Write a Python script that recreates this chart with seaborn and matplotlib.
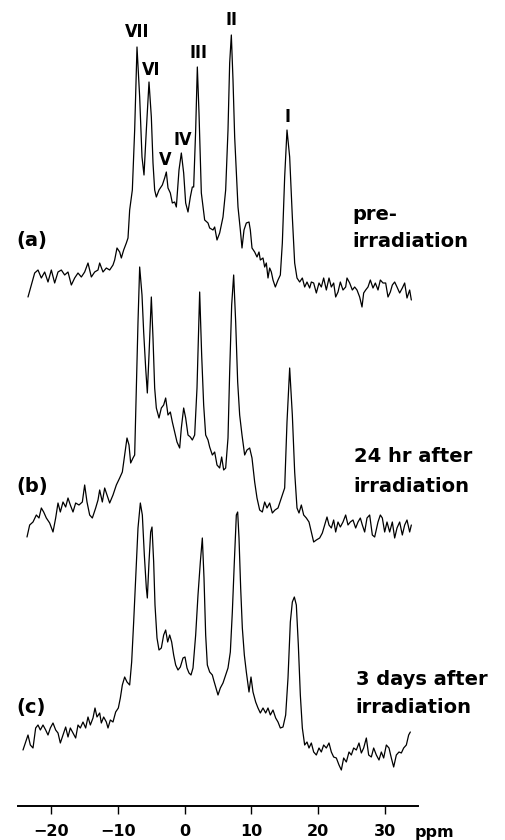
import matplotlib
matplotlib.use("Agg")
import matplotlib.pyplot as plt
import seaborn as sns
import pandas as pd

# ---------------- data ----------------
# chemical shift (ppm) and intensity (arbitrary units) for each spectrum
ppm_a = [-23.5, -22.5, -22.0, -21.5, -21.0, -20.5, -20.0, -19.5, -19.0, -18.5, -18.0, -17.5,
         -17.0, -16.5, -16.0, -15.5, -15.0, -14.5, -14.0, -13.5, -13.0, -12.75, -12.25, -11.75,
         -11.25, -10.75, -10.5, -10.15, -9.75, -9.5, -9.15, -8.75, -8.5, -8.25, -7.85, -7.5,
         -7.15, -6.75, -6.4, -6.1, -5.75, -5.35, -5.0, -4.75, -4.5, -4.25, -3.85, -3.35, -3.0,
         -2.75, -2.5, -2.15, -1.85, -1.5, -1.25, -0.85, -0.5, -0.15, 0.15, 0.5, 0.85, 1.15, 1.35,
         1.65, 1.9, 2.15, 2.5, 3.0, 3.5, 3.75, 4.25, 4.5, 4.85, 5.25, 5.75, 6.15, 6.5, 6.75, 7.0,
         7.25, 7.5, 7.75, 8.0, 8.35, 8.6, 8.9, 9.25, 9.65, 9.85, 10.1, 10.5, 10.85, 11.15, 11.35,
         11.75, 12.0, 12.25, 12.5, 12.75, 13.0, 13.25, 13.6, 14.0, 14.35, 14.65, 15.0, 15.35,
         15.75, 16.15, 16.5, 16.85, 17.25, 17.65, 18.0, 18.35, 18.75, 19.0, 19.35, 19.75, 20.15,
         20.5, 20.85, 21.25, 21.65, 22.0, 22.35, 22.65, 23.0, 23.35, 23.75, 24.15, 24.35, 24.75,
         25.15, 25.5, 25.85, 26.25, 26.6, 26.85, 27.15, 27.5, 27.85, 28.25, 28.6, 29.0, 29.35,
         29.75, 30.15, 30.5, 30.85, 31.15, 31.5, 31.85, 32.25, 32.65, 33.0, 33.35, 33.75, 34.0]
int_a = [13, 37, 40, 32, 38, 28, 40, 27, 38, 40, 35, 38,
         25, 32, 37, 33, 38, 47, 33, 38, 40, 47, 38, 42,
         40, 45, 50, 62, 58, 52, 60, 67, 72, 100, 120, 180,
         263, 213, 153, 135, 180, 228, 193, 147, 120, 113, 120, 125, 132,
         138, 122, 117, 107, 108, 103, 140, 157, 137, 107, 98, 113, 123, 123,
         180, 243, 197, 117, 90, 87, 82, 80, 83, 70, 77, 93, 120, 180, 247, 275,
         230, 173, 137, 103, 80, 62, 80, 87, 88, 80, 62, 58, 53, 58, 50,
         52, 43, 47, 32, 42, 38, 30, 23, 30, 35, 67, 133, 180,
         153, 93, 47, 32, 28, 32, 23, 28, 22, 28, 27, 17, 27,
         23, 32, 20, 32, 23, 27, 13, 18, 28, 20, 23, 32, 27,
         20, 23, 20, 13, 3, 17, 20, 23, 30, 22, 27, 20, 30,
         27, 27, 13, 18, 25, 28, 23, 17, 22, 27, 12, 20, 10]

ppm_b = [-23.65, -23.25, -22.75, -22.25, -21.85, -21.5, -21.15, -20.75, -20.25, -19.75, -19.35,
         -19.0, -18.65, -18.25, -17.85, -17.5, -17.15, -16.75, -16.35, -15.85, -15.35, -15.0,
         -14.65, -14.25, -13.85, -13.35, -13.0, -12.75, -12.35, -12.0, -11.65, -11.25, -10.75,
         -10.25, -9.75, -9.35, -9.0, -8.65, -8.35, -8.1, -7.75, -7.5, -7.25, -7.0, -6.75, -6.4,
         -6.15, -5.85, -5.6, -5.35, -5.0, -4.75, -4.5, -4.25, -3.85, -3.5, -3.15, -2.85, -2.5,
         -2.15, -1.85, -1.5, -1.15, -0.75, -0.5, -0.15, 0.15, 0.5, 0.85, 1.15, 1.5, 1.85, 2.25,
         2.55, 2.85, 3.15, 3.5, 3.75, 4.15, 4.5, 4.85, 5.25, 5.55, 5.85, 6.15, 6.5, 6.75, 7.05,
         7.35, 7.65, 7.95, 8.25, 8.6, 9.0, 9.35, 9.75, 10.1, 10.5, 10.85, 11.25, 11.65, 12.0,
         12.35, 12.75, 13.15, 13.55, 14.0, 14.5, 15.0, 15.35, 15.75, 16.15, 16.5, 16.85, 17.15,
         17.5, 17.85, 18.25, 18.65, 19.0, 19.35, 19.75, 20.25, 20.65, 21.0, 21.35, 21.65, 22.0,
         22.35, 22.65, 23.0, 23.35, 23.75, 24.15, 24.5, 24.85, 25.25, 25.65, 26.0, 26.35, 26.65,
         27.0, 27.35, 27.75, 28.15, 28.5, 29.0, 29.35, 29.65, 30.0, 30.35, 30.75, 31.15, 31.5,
         31.85, 32.25, 32.65, 33.0, 33.35, 33.75, 34.0]
int_b = [8, 20, 23, 30, 27, 37, 33, 27, 22, 13, 27,
         42, 33, 43, 38, 47, 40, 33, 42, 40, 43, 60,
         43, 30, 27, 37, 45, 55, 43, 57, 50, 42, 50,
         60, 67, 73, 90, 107, 100, 82, 87, 90, 157, 223, 278, 250,
         213, 177, 152, 190, 248, 207, 157, 137, 127, 137, 140, 147, 130,
         133, 123, 113, 103, 97, 117, 137, 127, 110, 108, 105, 110, 157, 253,
         190, 140, 110, 105, 98, 90, 93, 80, 77, 88, 75, 77, 107, 173, 240,
         270, 223, 163, 130, 110, 90, 95, 97, 87, 63, 47, 35, 33, 43,
         37, 42, 32, 35, 37, 47, 57, 123, 177, 130, 73, 37, 32,
         40, 30, 27, 23, 13, 3, 5, 7, 12, 20, 28, 20, 17,
         25, 13, 23, 18, 23, 30, 20, 23, 25, 17, 23, 27, 20,
         13, 27, 30, 10, 8, 23, 30, 27, 13, 23, 13, 23, 7,
         17, 23, 10, 20, 25, 13, 20]

ppm_c = [-24.25, -23.85, -23.5, -23.15, -22.75, -22.35, -22.0, -21.65, -21.25, -20.85, -20.5,
         -20.15, -19.75, -19.35, -19.0, -18.65, -18.25, -17.85, -17.5, -17.15, -16.75, -16.35,
         -16.0, -15.65, -15.25, -14.85, -14.5, -14.15, -13.75, -13.45, -13.15, -12.75, -12.5,
         -12.15, -11.75, -11.5, -11.15, -10.75, -10.35, -9.95, -9.65, -9.35, -9.0, -8.65, -8.25,
         -7.95, -7.65, -7.35, -7.0, -6.65, -6.35, -6.05, -5.75, -5.6, -5.35, -5.1, -4.9, -4.65,
         -4.45, -4.15, -3.85, -3.5, -3.15, -2.85, -2.55, -2.25, -1.95, -1.65, -1.35, -1.0, -0.65,
         -0.25, 0.05, 0.35, 0.65, 0.95, 1.25, 1.65, 2.0, 2.35, 2.65, 2.9, 3.15, 3.4, 3.65, 3.75,
         4.15, 4.35, 4.65, 5.0, 5.35, 5.75, 6.15, 6.5, 6.85, 7.15, 7.45, 7.75, 7.95, 8.15, 8.4,
         8.65, 8.95, 9.25, 9.65, 9.95, 10.25, 10.65, 11.0, 11.35, 11.75, 12.15, 12.5, 12.85,
         13.25, 13.65, 14.0, 14.35, 14.75, 15.15, 15.5, 15.85, 16.15, 16.45, 16.75, 17.05, 17.35,
         17.65, 18.0, 18.35, 18.65, 19.0, 19.35, 19.75, 20.15, 20.5, 20.85, 21.25, 21.65, 22.0,
         22.35, 22.75, 23.15, 23.5, 23.85, 24.25, 24.65, 25.0, 25.35, 25.75, 26.15, 26.5, 26.85,
         27.25, 27.6, 28.0, 28.35, 28.75, 29.15, 29.5, 29.85, 30.25, 30.65, 31.0, 31.35, 31.75,
         32.15, 32.5, 32.85, 33.25, 33.6, 33.85]
int_c = [30, 38, 45, 35, 32, 52, 55, 50, 55, 50, 45,
         52, 57, 50, 47, 37, 45, 53, 43, 52, 47, 42,
         55, 52, 58, 52, 63, 55, 62, 72, 63, 67, 57,
         63, 58, 52, 60, 58, 68, 72, 82, 95, 103, 98, 95,
         118, 158, 202, 252, 277, 265, 225, 192, 182, 218, 248, 253, 218,
         175, 142, 130, 132, 145, 150, 138, 145, 138, 125, 115, 110, 113,
         122, 123, 112, 107, 105, 112, 145, 185, 218, 242, 202, 145, 115, 110, 108,
         105, 100, 93, 85, 92, 97, 105, 112, 128, 168, 218, 265, 268, 242, 192,
         152, 125, 108, 88, 103, 88, 78, 72, 67, 72, 67, 72, 65,
         70, 62, 58, 52, 53, 65, 102, 158, 178, 183, 175, 135, 85,
         52, 35, 38, 32, 37, 28, 25, 32, 28, 35, 32, 37, 28,
         23, 22, 15, 10, 22, 18, 28, 25, 32, 30, 37, 27, 32,
         42, 25, 23, 32, 25, 20, 28, 22, 35, 32, 22, 13, 25,
         28, 27, 32, 35, 45, 48]

spectrum_ids = ["a", "b", "c"]
panel_labels = ["(a)", "(b)", "(c)"]
condition_lines = [["pre-", "irradiation"],
                   ["24 hr after", "irradiation"],
                   ["3 days after", "irradiation"]]
peak_names = ["VII", "VI", "V", "IV", "III", "II", "I"]
peak_ppm = [-7.1, -5.0, -2.9, -0.35, 2.1, 7.0, 15.35]
tick_values = [-20, -10, 0, 10, 20, 30]
axis_unit = "ppm"

# ---------------- layout (positions / styles) ----------------
offsets = {"a": 496, "b": 261, "c": 26}
peak_label_y = [774, 736, 646, 666, 753, 786, 689]
panel_label_y = [560, 314, 93]
condition_x = [25.15, 25.35, 25.65]
condition_y = [(586, 559), (344, 314), (121, 93)]

sns.set_theme(style="white")
plt.rcParams["font.family"] = ["DejaVu Sans"]
plt.rcParams["text.color"] = "black"
plt.rcParams["xtick.color"] = "black"
plt.rcParams["xtick.labelcolor"] = "black"
plt.rcParams["axes.edgecolor"] = "black"

df = pd.concat([
    pd.DataFrame({"ppm": p, "intensity": i, "spectrum": s})
    for p, i, s in [(ppm_a, int_a, "a"), (ppm_b, int_b, "b"), (ppm_c, int_c, "c")]
], ignore_index=True)
df["y"] = df["intensity"] + df["spectrum"].map(offsets)

fig = plt.figure(figsize=(5.06, 8.40), dpi=100)
fig.patch.set_facecolor("white")
ax = fig.add_axes([18 / 506, 34 / 840, 400 / 506, 806 / 840])
ax.set_facecolor("white")

sns.lineplot(data=df, x="ppm", y="y", units="spectrum", estimator=None, sort=False,
             color="black", lw=0.9, ax=ax, legend=False)

ax.set_xlim(-25, 35)
ax.set_ylim(0, 806)
for side in ["top", "left", "right"]:
    ax.spines[side].set_visible(False)
ax.spines["bottom"].set_color("black")
ax.spines["bottom"].set_linewidth(1.4)
ax.set_yticks([])
ax.set_xticks(tick_values)
ax.set_xticklabels([f"{v}".replace("-", "\u2212") for v in tick_values])
ax.tick_params(axis="x", direction="out", length=5.8, width=1.0, color="black",
               labelcolor="black", pad=7.5, labelsize=11.5, bottom=True)
for lab in ax.get_xticklabels():
    lab.set_fontweight("bold")
ax.set_xlabel("")
ax.set_ylabel("")

ax.text(37.5, -30.5, axis_unit, fontsize=11.5, fontweight="bold", ha="center",
        va="baseline", color="black", clip_on=False)

# peak labels (condensed face)
for name, x, y in zip(peak_names, peak_ppm, peak_label_y):
    ax.text(x, y, name, ha="center", va="center", fontsize=13, fontweight="bold",
            fontstretch="condensed", family=["DejaVu Sans"], color="black", clip_on=False)

# panel labels and condition text
for lab, y in zip(panel_labels, panel_label_y):
    ax.text(-25.25, y, lab, ha="left", va="baseline", fontsize=14, fontweight="bold",
            color="black", clip_on=False)
for lines, x, ys in zip(condition_lines, condition_x, condition_y):
    for txt, y in zip(lines, ys):
        ax.text(x, y, txt, ha="left", va="baseline", fontsize=14, fontweight="bold",
                color="black", clip_on=False)

fig.savefig("out.png", dpi=100, facecolor="white")
